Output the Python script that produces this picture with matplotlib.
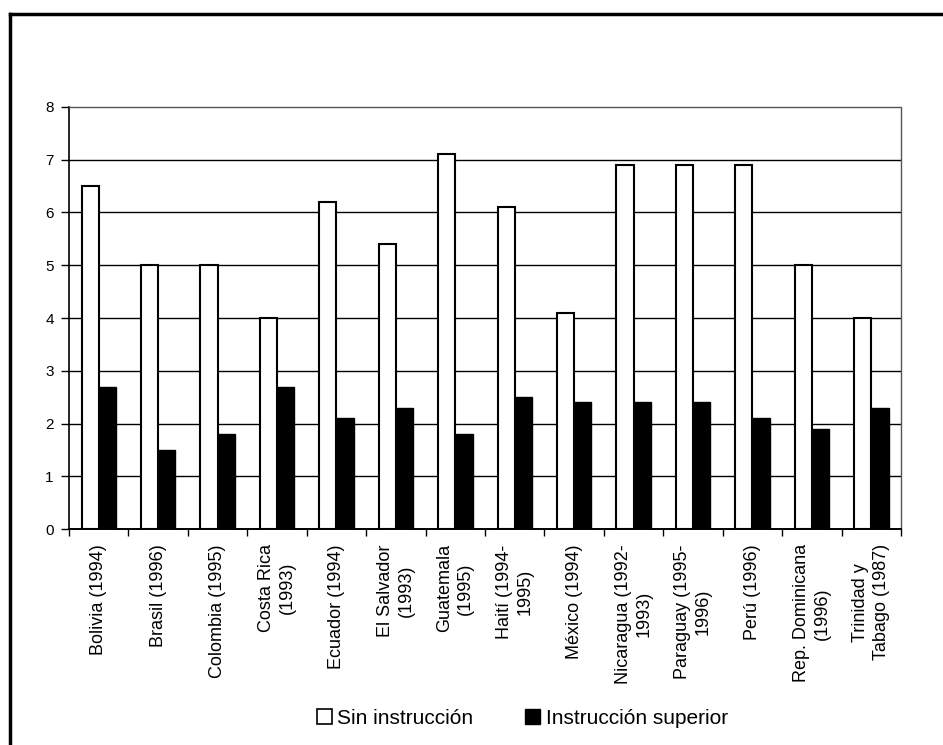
import numpy as np
import matplotlib
matplotlib.use("Agg")
from matplotlib import pyplot as plt
from matplotlib.lines import Line2D
from matplotlib.patches import Patch

# Datos por país
paises = ["Bolivia (1994)", "Brasil (1996)", "Colombia (1995)", "Costa Rica\n(1993)",
          "Ecuador (1994)", "El Salvador\n(1993)", "Guatemala\n(1995)", "Haití (1994-\n1995)",
          "México (1994)", "Nicaragua (1992-\n1993)", "Paraguay (1995-\n1996)", "Perú (1996)",
          "Rep. Dominicana\n(1996)", "Trinidad y\nTabago (1987)"]
sin_instruccion = [6.5, 5.0, 5.0, 4.0, 6.2, 5.4, 7.1, 6.1, 4.1, 6.9, 6.9, 6.9, 5.0, 4.0]
instruccion_superior = [2.7, 1.5, 1.8, 2.7, 2.1, 2.3, 1.8, 2.5, 2.4, 2.4, 2.4, 2.1, 1.9, 2.3]
etiquetas_leyenda = ["Sin instrucción", "Instrucción superior"]

plt.rcParams["font.family"] = ["Liberation Sans", "DejaVu Sans"]

fig = plt.figure(figsize=(9.43, 7.45), dpi=100)
ax = fig.add_axes([0.0732, 0.2899, 0.8823, 0.5665])

x = np.arange(len(paises))
ancho = 0.29
ax.bar(x - ancho / 2, sin_instruccion, ancho, color="white", edgecolor="black",
       linewidth=1.5, zorder=3)
ax.bar(x + ancho / 2, instruccion_superior, ancho, color="black", edgecolor="black",
       linewidth=1.0, zorder=3)

ax.set_xlim(-0.5, len(paises) - 0.5)
ax.set_ylim(0, 8)
ax.set_yticks(range(0, 9))
ax.yaxis.grid(True, color="black", linewidth=1.0, zorder=0)
ax.get_ygridlines()[-1].set_visible(False)
ax.set_axisbelow(True)

# marco del área de trazado
for lado in ["top", "right"]:
    ax.spines[lado].set_linestyle((0, (1, 1)))
    ax.spines[lado].set_color("#555555")
    ax.spines[lado].set_linewidth(1.0)
ax.spines["left"].set_linewidth(1.2)
ax.spines["bottom"].set_linewidth(1.4)

ax.tick_params(axis="y", direction="out", length=6, width=1, labelsize=11, pad=5)
ax.set_xticks(x)
ax.set_xticklabels(paises, rotation=90, fontsize=13, ha="center", va="top",
                   multialignment="center", linespacing=1.3)
ax.set_xticks(np.arange(-0.5, len(paises)), minor=True)
ax.tick_params(axis="x", which="major", length=0, pad=11)
ax.tick_params(axis="x", which="minor", direction="out", length=5, width=1)

# leyenda
manijas = [Patch(facecolor="white", edgecolor="black", linewidth=1.2),
           Patch(facecolor="black", edgecolor="black")]
fig.legend(manijas, etiquetas_leyenda, loc="center", bbox_to_anchor=(0.554, 0.036),
           ncol=2, frameon=False, handlelength=0.72, handleheight=0.72,
           handletextpad=0.25, columnspacing=2.5, fontsize=15)

# marco exterior
fig.add_artist(Line2D([0.0106, 1.0], [0.981, 0.981], color="black", linewidth=2.5,
                      transform=fig.transFigure))
fig.add_artist(Line2D([0.0106, 0.0106], [0.0, 0.981], color="black", linewidth=2.5,
                      transform=fig.transFigure))

fig.savefig("out.png", dpi=100)
